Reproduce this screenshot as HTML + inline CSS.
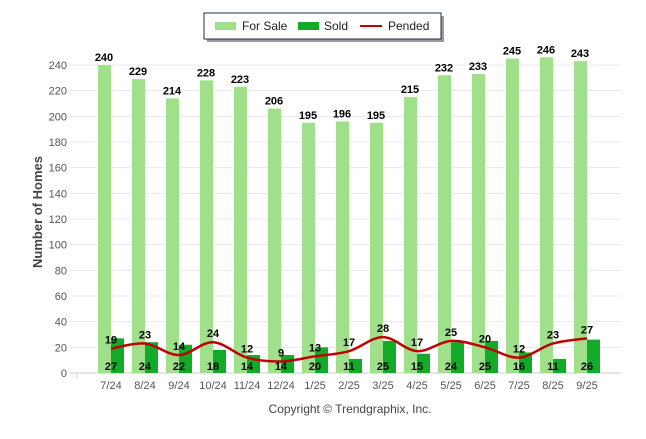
<!DOCTYPE html>
<html><head><meta charset="utf-8"><style>
body{margin:0;background:#fff;width:646px;height:434px;overflow:hidden;font-family:"Liberation Sans",sans-serif}
</style></head><body>
<svg id="chart" width="646" height="434" xmlns="http://www.w3.org/2000/svg">
<g id="grid"></g>
<g id="bars"></g>
<path id="pline" fill="none" stroke="#c00000" stroke-width="2.5"/>
<g id="labels" font-size="11" font-weight="bold" fill="#000" text-anchor="middle"></g>
<g id="axes" font-size="11" fill="#555"></g>
<text transform="translate(42,212) rotate(-90)" text-anchor="middle" font-size="13" font-weight="bold" fill="#444">Number of Homes</text>
<text x="350" y="413" text-anchor="middle" font-size="12" fill="#444">Copyright © Trendgraphix, Inc.</text>
<g>
<rect x="207" y="16" width="237" height="26" fill="#555" opacity="0.6"/>
<rect x="204" y="13" width="237" height="26" fill="#fff" stroke="#1f2d4d" stroke-width="1"/>
<rect x="215" y="22" width="21" height="8" fill="#a0e08a"/>
<text x="242" y="30" font-size="12" fill="#222">For Sale</text>
<rect x="298" y="22" width="21" height="8" fill="#12aa28"/>
<text x="324" y="30" font-size="12" fill="#222">Sold</text>
<line x1="360" y1="26" x2="382" y2="26" stroke="#c00000" stroke-width="2"/>
<text x="388" y="30" font-size="12" fill="#222">Pended</text>
</g>
</svg>
<script>
const categories=["7/24","8/24","9/24","10/24","11/24","12/24","1/25","2/25","3/25","4/25","5/25","6/25","7/25","8/25","9/25"];
const forSale=[240,229,214,228,223,206,195,196,195,215,232,233,245,246,243];
const sold=[27,24,22,18,14,14,20,11,25,15,24,25,16,11,26];
const pended=[19,23,14,24,12,9,13,17,28,17,25,20,12,23,27];
const yTicks=[0,20,40,60,80,100,120,140,160,180,200,220,240];
const NS="http://www.w3.org/2000/svg";
const y=v=>373-v*308/240;
const x=i=>111+i*34;
function mk(t,a,p){const e=document.createElementNS(NS,t);for(const k in a)e.setAttribute(k,a[k]);p.appendChild(e);return e;}
const G=document.getElementById('grid'),B=document.getElementById('bars'),L=document.getElementById('labels'),A=document.getElementById('axes');
yTicks.forEach(t=>{
 const l=mk('line',{x1:70,x2:621,y1:y(t),y2:y(t),stroke:t==0?'#ccc':'#e8e8e8','stroke-width':1},G);
 
 
 const tx=mk('text',{x:67,y:y(t)+4,'text-anchor':'end'},A);tx.textContent=t;
 
 
});
categories.forEach((c,i)=>{
 const r1=mk('rect',{x:x(i)-13,y:y(forSale[i]),width:13,height:y(0)-y(forSale[i]),fill:'#a0e08a'},B);
 
 
 const r2=mk('rect',{x:x(i),y:y(sold[i]),width:13,height:y(0)-y(sold[i]),fill:'#12aa28'},B);
 
 
 const t1=mk('text',{x:x(i)-7,y:y(forSale[i])-4},L);t1.textContent=forSale[i];
 
 
 const t2=mk('text',{x:x(i),y:370},L);t2.textContent=sold[i];
 
 
 const t3=mk('text',{x:x(i),y:y(pended[i])-5},L);t3.textContent=pended[i];
 
 
 const xl=mk('text',{x:x(i),y:389,'text-anchor':'middle'},A);xl.textContent=c;
 
 
});
const pts=pended.map((v,i)=>[x(i),y(v)]);
let d=`M${pts[0][0]},${pts[0][1]}`;
for(let i=0;i<pts.length-1;i++){
 const p0=pts[Math.max(i-1,0)],p1=pts[i],p2=pts[i+1],p3=pts[Math.min(i+2,pts.length-1)];
 const c1=[p1[0]+(p2[0]-p0[0])/6,p1[1]+(p2[1]-p0[1])/6],c2=[p2[0]-(p3[0]-p1[0])/6,p2[1]-(p3[1]-p1[1])/6];
 d+=` C${c1[0]},${c1[1]} ${c2[0]},${c2[1]} ${p2[0]},${p2[1]}`;
}
document.getElementById('pline').setAttribute('d',d);
mk('line',{x1:77,x2:77,y1:373,y2:378,stroke:'#ccc'},A);
</script>
</body></html>
